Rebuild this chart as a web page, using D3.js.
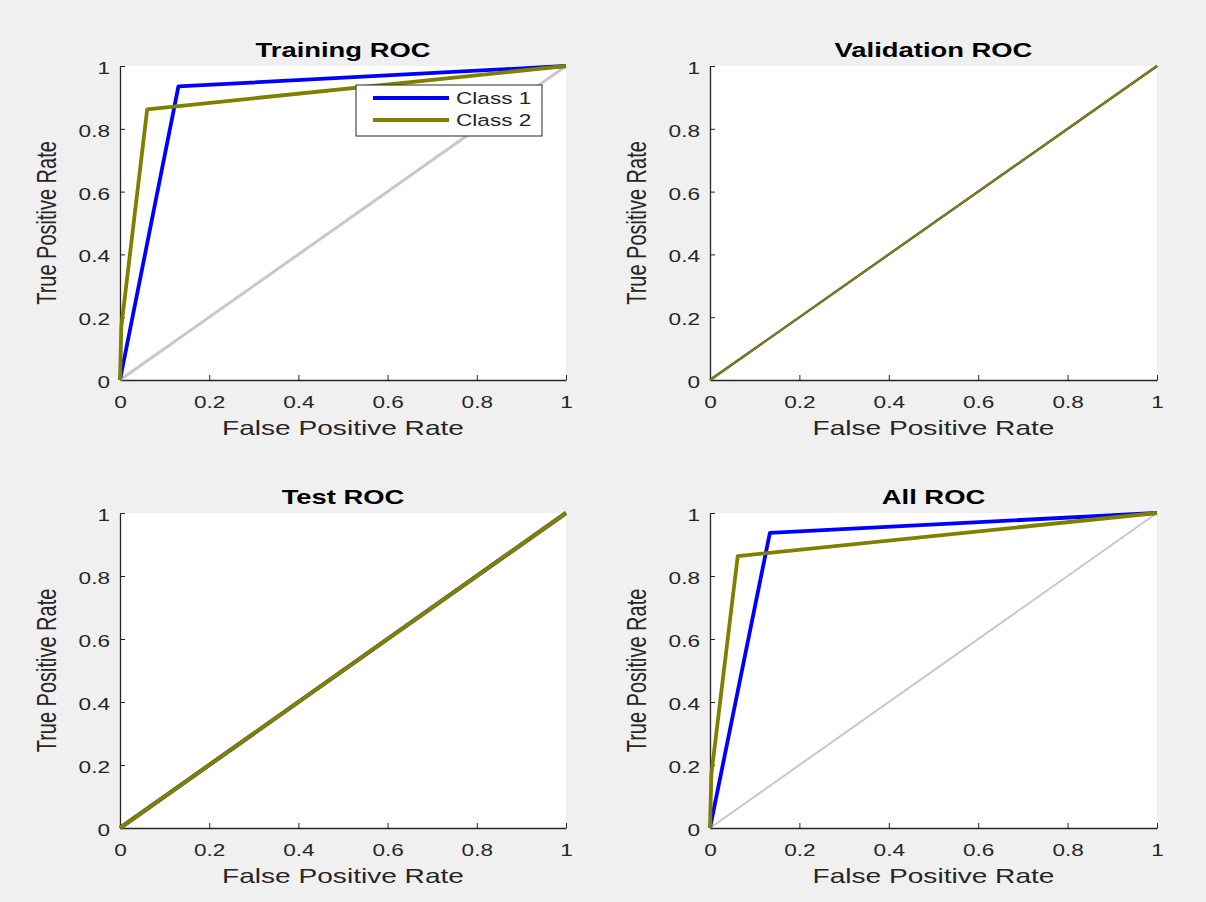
<!DOCTYPE html>
<html>
<head>
<meta charset="utf-8">
<script src="https://cdn.jsdelivr.net/npm/d3@7"></script>
<style>
  body { margin: 0; background: #f0f0f0; }
  svg { display: block; font-family: "Liberation Sans", Arial, sans-serif; }
</style>
</head>
<body>
<svg width="1206" height="902"></svg>
<script>
// ROC points (false positive rate / true positive rate)
var trainC1X = [0, 0.131, 1];
var trainC1Y = [0, 0.935, 1];
var trainC2X = [0, 0.003, 0.061, 1];
var trainC2Y = [0, 0.17, 0.862, 1];

var valC1X = [0, 1];
var valC1Y = [0, 1];
var valC2X = [0, 1];
var valC2Y = [0, 1];

var testC1X = [0, 1];
var testC1Y = [0, 1];
var testC2X = [0, 1];
var testC2Y = [0, 1];

var allC1X = [0, 0.134, 1];
var allC1Y = [0, 0.937, 1];
var allC2X = [0, 0.003, 0.062, 1];
var allC2Y = [0, 0.17, 0.863, 1];

var diagX = [0, 1];
var diagY = [0, 1];

var tickValues = [0, 0.2, 0.4, 0.6, 0.8, 1];
var classNames = ['Class 1', 'Class 2'];

var BLUE = '#0000ff', OLIVE = '#808000', GREY = '#c8c8c8', AXIS = '#262626';
var SX = 1.37; // the picture is stretched sideways, text too

var svg = d3.select('svg');
svg.append('rect').attr('width', 1206).attr('height', 902).attr('fill', '#f0f0f0');

function zip(xs, ys) {
    return xs.map(function(x, i){ return [x, ys[i]]; });
}

var panels = [
    {title: 'Training ROC', left: 120, top: 66, w: 446, h: 314,
     c1: zip(trainC1X, trainC1Y), c2: zip(trainC2X, trainC2Y), diag: true, diagW: 3, lw: 3.8, legend: true},
    {title: 'Validation ROC', left: 710, top: 66, w: 447, h: 314,
     c1: zip(valC1X, valC1Y), c2: zip(valC2X, valC2Y), diag: false, lw: 2.2},
    {title: 'Test ROC', left: 120, top: 513, w: 446, h: 315,
     c1: zip(testC1X, testC1Y), c2: zip(testC2X, testC2Y), diag: false, lw: 4},
    {title: 'All ROC', left: 710, top: 513, w: 447, h: 315,
     c1: zip(allC1X, allC1Y), c2: zip(allC2X, allC2Y), diag: true, diagW: 2, lw: 3.8}
];

function stretchedText(g, x, y, str, size, rotate) {
    var t = 'translate(' + x + ',' + y + ') scale(' + SX + ',1)';
    if (rotate) t += ' rotate(-90)';
    return g.append('text')
        .attr('transform', t)
        .attr('font-size', size)
        .attr('text-anchor', 'middle')
        .text(str);
}

panels.forEach(function(p){
    var g = svg.append('g').attr('transform', 'translate(' + p.left + ',' + p.top + ')');
    var ScaleX = d3.scaleLinear().domain([0, 1]).range([0, p.w]);
    var ScaleY = d3.scaleLinear().domain([0, 1]).range([p.h, 0]);

    g.append('rect').attr('width', p.w).attr('height', p.h).attr('fill', '#ffffff');

    var xAxis = g.append('g')
        .attr('transform', 'translate(0,' + p.h + ')')
        .call(d3.axisBottom(ScaleX).tickValues(tickValues).tickSize(-5).tickSizeOuter(0)
            .tickPadding(16).tickFormat(d3.format('~g')));
    var yAxis = g.append('g')
        .call(d3.axisLeft(ScaleY).tickValues(tickValues).tickSize(-5).tickSizeOuter(0)
            .tickFormat(d3.format('~g')));

    [xAxis, yAxis].forEach(function(a){
        a.select('.domain').attr('stroke', AXIS).attr('stroke-width', 1.3);
        a.selectAll('.tick line').attr('stroke', AXIS);
        a.selectAll('.tick text')
            .attr('fill', AXIS)
            .attr('font-size', 16.5)
            .attr('font-family', '"Liberation Sans", Arial, sans-serif')
            .attr('transform', 'scale(' + SX + ',1)');
    });
    yAxis.selectAll('.tick text').attr('x', -10 / SX).attr('dy', '0.45em');

    var line = d3.line()
        .x(function(d){ return ScaleX(d[0]); })
        .y(function(d){ return ScaleY(d[1]); });

    if (p.diag) {
        g.append('path').datum(zip(diagX, diagY)).attr('d', line)
            .attr('fill', 'none').attr('stroke', GREY).attr('stroke-width', p.diagW);
    }
    g.append('path').datum(p.c1).attr('d', line)
        .attr('fill', 'none').attr('stroke', BLUE).attr('stroke-width', p.lw)
        .attr('stroke-linejoin', 'round');
    g.append('path').datum(p.c2).attr('d', line)
        .attr('fill', 'none').attr('stroke', OLIVE).attr('stroke-width', p.lw)
        .attr('stroke-linejoin', 'round');

    stretchedText(g, p.w / 2, -9, p.title, 20).attr('font-weight', 'bold').attr('fill', '#000');
    stretchedText(g, p.w / 2, p.h + 55, 'False Positive Rate', 20.5).attr('fill', AXIS);
    stretchedText(g, -64, p.h / 2, 'True Positive Rate', 20, true).attr('fill', AXIS);

    if (p.legend) {
        var lg = g.append('g').attr('transform', 'translate(' + (356 - p.left) + ',' + (85 - p.top) + ')');
        lg.append('rect').attr('width', 186).attr('height', 51)
            .attr('fill', '#ffffff').attr('stroke', AXIS).attr('stroke-width', 1);
        classNames.forEach(function(name, i){
            var yy = 13 + i * 22;
            lg.append('line').attr('x1', 17).attr('x2', 93).attr('y1', yy).attr('y2', yy)
                .attr('stroke', i === 0 ? BLUE : OLIVE).attr('stroke-width', 3.8);
            lg.append('text')
                .attr('transform', 'translate(100,' + (yy + 6) + ') scale(' + SX + ',1)')
                .attr('font-size', 16.5).attr('fill', AXIS)
                .text(name);
        });
    }
});
</script>
</body>
</html>
